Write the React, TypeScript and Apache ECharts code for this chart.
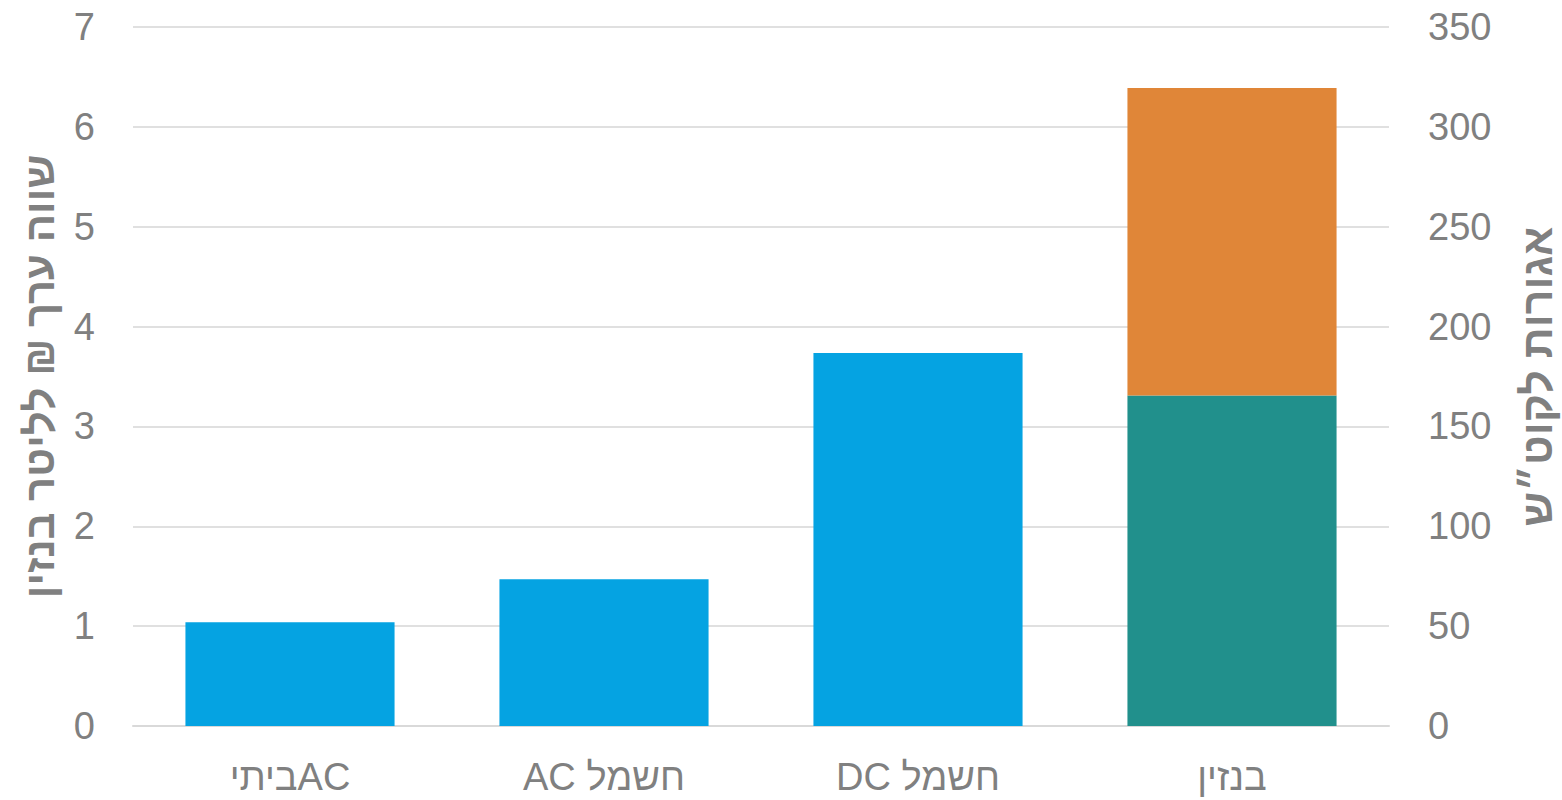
import React, { useEffect, useRef } from "react";
import * as echarts from "echarts";

const categories = ["ביתיAC", "AC חשמל", "DC חשמל", "בנזין"];
const electricValues: (number | string)[] = [1.04, 1.47, 3.735, "-"];
const fuelBaseValues: (number | string)[] = ["-", "-", "-", 3.31];
const fuelTaxValues: (number | string)[] = ["-", "-", "-", 3.08];
const leftTitle = "שווה ערך ₪ לליטר בנזין";
const rightTitle = "אגורות לקוט״ש";

const FONT = '"Liberation Sans", "DejaVu Sans", sans-serif';
const GRAY = "#808080";

export default function App() {
  const ref = useRef<HTMLDivElement>(null);
  useEffect(() => {
    document.body.style.margin = "0";
    if (!ref.current) return;
    const chart = echarts.init(ref.current, null, { renderer: "svg" });
    chart.setOption({
      animation: false,
      grid: { left: 133, right: 173, top: 27, bottom: 74, outerBoundsMode: "none" },
      xAxis: {
        type: "category",
        data: categories,
        axisLine: { lineStyle: { color: "#d9d9d9", width: 2 } },
        axisTick: { show: false },
        axisLabel: { color: GRAY, fontSize: 38, fontFamily: FONT, margin: 32 },
      },
      yAxis: [
        {
          type: "value",
          min: 0,
          max: 7,
          interval: 1,
          name: leftTitle,
          nameLocation: "middle",
          nameGap: 73,
          nameTextStyle: { color: GRAY, fontSize: 42, fontWeight: "bold", fontFamily: FONT },
          axisLabel: { color: GRAY, fontSize: 38, fontFamily: FONT, margin: 38 },
          splitLine: { lineStyle: { color: "#e0e0e0", width: 2 } },
          axisLine: { show: false },
          axisTick: { show: false },
        },
        {
          type: "value",
          min: 0,
          max: 350,
          interval: 50,
          position: "right",
          name: rightTitle,
          nameLocation: "middle",
          nameGap: 126,
          nameTextStyle: { color: GRAY, fontSize: 43, fontWeight: "bold", fontFamily: FONT },
          axisLabel: { color: GRAY, fontSize: 38, fontFamily: FONT, margin: 39 },
          splitLine: { show: false },
          axisLine: { show: false },
          axisTick: { show: false },
        },
      ],
      series: [
        {
          type: "bar",
          stack: "s",
          data: electricValues,
          barCategoryGap: "33.4%",
          itemStyle: { color: "#05A3E2" },
        },
        {
          type: "bar",
          stack: "s",
          data: fuelBaseValues,
          barCategoryGap: "33.4%",
          itemStyle: { color: "#21908C" },
        },
        {
          type: "bar",
          stack: "s",
          data: fuelTaxValues,
          barCategoryGap: "33.4%",
          itemStyle: { color: "#E08638" },
        },
      ],
    });
    return () => chart.dispose();
  }, []);
  return <div ref={ref} style={{ width: 1562, height: 800 }} />;
}
